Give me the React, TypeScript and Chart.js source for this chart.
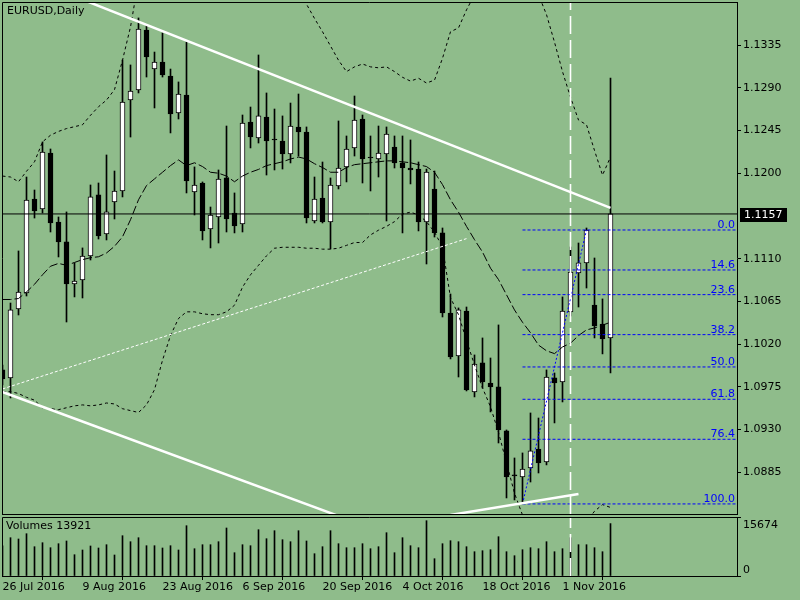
import React, { useEffect, useRef } from 'react';
import { Chart, registerables } from 'chart.js';

Chart.register(...registerables);

// ---------- data ----------
const symbolTitle = 'EURUSD,Daily';
const dateTickBars = [0, 10, 20, 30, 40, 50, 60, 70];
const dateTicks = ['26 Jul 2016', '9 Aug 2016', '23 Aug 2016', '6 Sep 2016', '20 Sep 2016', '4 Oct 2016', '18 Oct 2016', '1 Nov 2016'];
const priceTicks = [1.0885, 1.093, 1.0975, 1.102, 1.1065, 1.111, 1.12, 1.1245, 1.129, 1.1335];

const opens = [1.09928, 1.09844, 1.10570, 1.10739, 1.11728, 1.11623, 1.12213, 1.11486, 1.11276, 1.10834,
  1.10876, 1.11128, 1.11771, 1.11360, 1.11697, 1.11813, 1.12771, 1.12876, 1.13508, 1.13097,
  1.13171, 1.13024, 1.12634, 1.12824, 1.11802, 1.11897, 1.11413, 1.11539, 1.11950, 1.11581,
  1.11465, 1.12539, 1.12371, 1.12592, 1.12360, 1.12339, 1.12202, 1.12487, 1.12434, 1.11497,
  1.11739, 1.11486, 1.11865, 1.12066, 1.12266, 1.12571, 1.12171, 1.12150, 1.12202, 1.12276,
  1.12108, 1.12055, 1.12044, 1.11486, 1.11834, 1.11371, 1.10528, 1.10075, 1.10549, 1.09696,
  1.10002, 1.09791, 1.09749, 1.09286, 1.08822, 1.08801, 1.08896, 1.09096, 1.08959, 1.09844,
  1.09802, 1.10539, 1.10949, 1.11055, 1.10612, 1.10412, 1.10265];
const highs = [1.09980, 1.10633, 1.11181, 1.11960, 1.11823, 1.12329, 1.12255, 1.11539, 1.11592, 1.11055,
  1.11213, 1.11876, 1.11897, 1.12192, 1.12023, 1.13192, 1.13140, 1.13635, 1.13561, 1.13276,
  1.13477, 1.13097, 1.12961, 1.13382, 1.12066, 1.11908, 1.11644, 1.12034, 1.12497, 1.11792,
  1.12613, 1.12697, 1.13245, 1.12845, 1.12676, 1.12603, 1.12739, 1.12834, 1.12487, 1.11960,
  1.12118, 1.11950, 1.12550, 1.12392, 1.12813, 1.12613, 1.12392, 1.12497, 1.12487, 1.12392,
  1.12392, 1.12350, 1.12118, 1.12044, 1.12023, 1.11423, 1.10728, 1.10581, 1.10591, 1.10086,
  1.10265, 1.10054, 1.10402, 1.09296, 1.09001, 1.09054, 1.09475, 1.09422, 1.09928, 1.09896,
  1.10697, 1.11223, 1.11265, 1.11423, 1.11107, 1.10676, 1.13003];
const lows = [1.09770, 1.09633, 1.10507, 1.10707, 1.11528, 1.11581, 1.11381, 1.11118, 1.10433, 1.10697,
  1.10686, 1.11086, 1.11307, 1.11297, 1.11518, 1.11750, 1.12381, 1.12845, 1.13013, 1.12687,
  1.13013, 1.12424, 1.12571, 1.11792, 1.11560, 1.11297, 1.11213, 1.11265, 1.11381, 1.11371,
  1.11381, 1.12266, 1.12318, 1.11981, 1.12034, 1.12044, 1.12108, 1.12181, 1.11476, 1.11476,
  1.11476, 1.11202, 1.11834, 1.11908, 1.12181, 1.11897, 1.11813, 1.11960, 1.11497, 1.12055,
  1.11371, 1.11887, 1.11392, 1.11044, 1.11328, 1.10486, 1.10044, 1.09854, 1.09707, 1.09644,
  1.09738, 1.09486, 1.09159, 1.08580, 1.08559, 1.08517, 1.08748, 1.08843, 1.08928, 1.09370,
  1.09591, 1.10496, 1.10591, 1.10791, 1.10265, 1.10097, 1.09896];
const closes = [1.09833, 1.10560, 1.10749, 1.11718, 1.11602, 1.12223, 1.11476, 1.11276, 1.10834, 1.10865,
  1.11128, 1.11750, 1.11339, 1.11592, 1.11813, 1.12750, 1.12866, 1.13519, 1.13224, 1.13171,
  1.13034, 1.12624, 1.12834, 1.11918, 1.11876, 1.11392, 1.11560, 1.11939, 1.11518, 1.11444,
  1.12529, 1.12381, 1.12603, 1.12339, 1.12350, 1.12202, 1.12497, 1.12434, 1.11528, 1.11728,
  1.11486, 1.11876, 1.12055, 1.12255, 1.12560, 1.12150, 1.12160, 1.12213, 1.12413, 1.12108,
  1.12055, 1.12034, 1.11486, 1.12013, 1.11371, 1.10528, 1.10065, 1.10560, 1.09717, 1.09991,
  1.09802, 1.09749, 1.09296, 1.08801, 1.08812, 1.08885, 1.09075, 1.08949, 1.09854, 1.09791,
  1.10549, 1.10960, 1.11055, 1.11402, 1.10391, 1.10254, 1.11571];
const volumes = [8000, 10176, 9831, 11239, 7785, 8848, 7519, 8582, 9300, 5659,
  6908, 7971, 7440, 8316, 5580, 10708, 9114, 10176, 8051, 8051,
  7440, 8051, 6908, 13365, 7254, 8316, 8316, 9114, 12754, 6191,
  8316, 8051, 12302, 9911, 12036, 9645, 9114, 12036, 9300, 5925,
  7785, 12036, 8582, 7519, 7519, 8582, 7254, 7785, 11505, 6191,
  10176, 8051, 7519, 14693, 4597, 8582, 9379, 9114, 7785, 6457,
  6722, 6988, 10442, 6457, 5394, 6988, 7519, 7254, 9114, 6457,
  7254, 10176, 8316, 8316, 7519, 6457, 13921];
const volumeMax = 15674;

const bbUpper = [1.1197, 1.1196, 1.1191, 1.1202, 1.1212, 1.1233, 1.1240, 1.1244, 1.1247, 1.1249,
  1.1251, 1.1261, 1.1270, 1.1277, 1.1288, 1.1319, 1.1354, 1.1403, 1.1419, 1.1424,
  1.1424, 1.1424, 1.1424, 1.1422, 1.1422, 1.1420, 1.1420, 1.1418, 1.1418, 1.1416,
  1.1414, 1.1412, 1.1414, 1.1412, 1.1409, 1.1403, 1.1395, 1.1388, 1.1378, 1.1363,
  1.1349, 1.1334, 1.1319, 1.1307, 1.1312, 1.1315, 1.1312, 1.1311, 1.1312, 1.1307,
  1.1301, 1.1297, 1.1300, 1.1295, 1.1298, 1.1321, 1.1349, 1.1353, 1.1372, 1.1388,
  1.1403, 1.1414, 1.1424, 1.1435, 1.1424, 1.1414, 1.1403, 1.1388, 1.1367, 1.1338,
  1.1307, 1.1280, 1.1256, 1.1251, 1.1224, 1.1198, 1.1217];
const bbMiddle = [1.1067, 1.1067, 1.1068, 1.1075, 1.1083, 1.1093, 1.1102, 1.1105, 1.1103, 1.1106,
  1.1109, 1.1111, 1.1112, 1.1116, 1.1123, 1.1133, 1.1151, 1.1172, 1.1187, 1.1194,
  1.1201, 1.1208, 1.1214, 1.1208, 1.1211, 1.1207, 1.1201, 1.1200, 1.1197, 1.1191,
  1.1197, 1.1201, 1.1204, 1.1208, 1.1210, 1.1212, 1.1215, 1.1217, 1.1215, 1.1210,
  1.1206, 1.1201, 1.1201, 1.1206, 1.1209, 1.1210, 1.1211, 1.1212, 1.1213, 1.1213,
  1.1212, 1.1211, 1.1209, 1.1207, 1.1201, 1.1188, 1.1172, 1.1159, 1.1144, 1.1130,
  1.1117, 1.1100, 1.1088, 1.1072, 1.1056, 1.1043, 1.1032, 1.1019, 1.1013, 1.1010,
  1.1017, 1.1021, 1.1029, 1.1035, 1.1037, 1.1040, 1.1043];
const bbLower = [1.0970, 1.0970, 1.0968, 1.0964, 1.0961, 1.0953, 1.0952, 1.0951, 1.0953, 1.0955,
  1.0956, 1.0955, 1.0956, 1.0958, 1.0957, 1.0952, 1.0950, 1.0948, 1.0956, 1.0972,
  1.1003, 1.1029, 1.1047, 1.1054, 1.1054, 1.1052, 1.1051, 1.1051, 1.1054, 1.1061,
  1.1080, 1.1093, 1.1103, 1.1113, 1.1121, 1.1122, 1.1122, 1.1122, 1.1121, 1.1121,
  1.1120, 1.1120, 1.1121, 1.1124, 1.1127, 1.1127, 1.1135, 1.1140, 1.1144, 1.1149,
  1.1157, 1.1159, 1.1156, 1.1149, 1.1138, 1.1122, 1.1069, 1.1051, 1.1024, 1.0998,
  1.0974, 1.0954, 1.0927, 1.0895, 1.0863, 1.0840, 1.0824, 1.0803, 1.0787, 1.0782,
  1.0787, 1.0803, 1.0819, 1.0833, 1.0844, 1.0851, 1.0848];

// chart objects (bar index, price)
const fibLevels = [0, 14.6, 23.6, 38.2, 50, 61.8, 76.4, 100];
const fibHigh = 1.11402;
const fibLow = 1.08517;
const fibLowBar = 65;
const fibHighBar = 73;
const channelUpper = [{ bar: 0, price: 1.14161 }, { bar: 76, price: 1.11634 }];
const channelLower = [{ bar: 0, price: 1.09696 }, { bar: 76, price: 1.07333 }];
const dottedTrend = [{ bar: 0, price: 1.09728 }, { bar: 58, price: 1.11311 }];
const supportTrend = [{ bar: 56, price: 1.08401 }, { bar: 72, price: 1.08622 }];
const separatorBar = 71;

// ---------- layout / style ----------
const BG = '#8FBC8B';
const FIB_COLOR = '#0000FF';
const FONT = '"DejaVu Sans"';
const X_MIN = -0.0625;
const X_MAX = 91.8125;
const Y_MIN = 1.08411;
const Y_MAX = 1.13803;
const AXIS_W = 63;

Chart.defaults.font.family = FONT;
Chart.defaults.font.size = 11;
Chart.defaults.color = '#000';

const idx = opens.map((_, i) => i);
const fibPrice = (l: number) => fibHigh - (fibHigh - fibLow) * l / 100;

const lineDs = (data: any[], color: string, width: number, dash: number[], order: number) => ({
  type: 'line' as const,
  data,
  borderColor: color,
  borderWidth: width,
  borderDash: dash,
  pointRadius: 0,
  fill: false,
  tension: 0,
  order,
  clip: 0,
});
const toPts = (arr: { bar: number; price: number }[]) => arr.map(p => ({ x: p.bar, y: p.price }));

const mainOverlay = {
  id: 'mainOverlay',
  afterDraw(chart: any) {
    const { ctx, chartArea: a, scales } = chart;
    const y = scales.y;
    ctx.save();
    ctx.strokeStyle = '#000';
    ctx.lineWidth = 1;
    ctx.beginPath();
    ctx.moveTo(a.left + 0.5, a.bottom + 0.5);
    ctx.lineTo(a.left + 0.5, a.top + 0.5);
    ctx.lineTo(a.right, a.top + 0.5);
    ctx.moveTo(a.left, a.bottom + 0.5);
    ctx.lineTo(a.right + 1, a.bottom + 0.5);
    ctx.stroke();
    ctx.font = `11px ${FONT}`;
    ctx.fillStyle = '#000';
    ctx.textAlign = 'left';
    ctx.textBaseline = 'top';
    ctx.fillText(symbolTitle, a.left + 5, a.top + 4);
    ctx.fillStyle = FIB_COLOR;
    ctx.textAlign = 'right';
    ctx.textBaseline = 'alphabetic';
    fibLevels.forEach(l => {
      const py = y.getPixelForValue(fibPrice(l));
      ctx.fillText(l.toFixed(1), a.right - 2, py - 2);
    });
    const last = closes[closes.length - 1];
    const py = Math.round(y.getPixelForValue(last));
    ctx.fillStyle = '#000';
    ctx.fillRect(a.right + 3, py - 6, 47, 14);
    ctx.fillStyle = '#fff';
    ctx.textAlign = 'left';
    ctx.textBaseline = 'middle';
    ctx.fillText(last.toFixed(4), a.right + 7, py + 1);
    ctx.restore();
  },
};

const volOverlay = {
  id: 'volOverlay',
  afterDraw(chart: any) {
    const { ctx, chartArea: a, scales } = chart;
    const y = scales.y;
    ctx.save();
    ctx.strokeStyle = '#000';
    ctx.lineWidth = 1;
    ctx.beginPath();
    ctx.moveTo(a.left + 0.5, a.bottom + 0.5);
    ctx.lineTo(a.left + 0.5, a.top + 0.5);
    ctx.lineTo(a.right, a.top + 0.5);
    ctx.stroke();
    ctx.font = `11px ${FONT}`;
    ctx.fillStyle = '#000';
    ctx.textAlign = 'left';
    ctx.textBaseline = 'top';
    ctx.fillText('Volumes ' + volumes[volumes.length - 1], a.left + 4, a.top + 4);
    ctx.textBaseline = 'alphabetic';
    ctx.fillText(String(volumeMax), a.right + 6, y.getPixelForValue(volumeMax) + 11);
    ctx.fillText('0', a.right + 6, y.getPixelForValue(0) - 3);
    ctx.restore();
  },
};

function buildMainConfig(): any {
  const last = closes[closes.length - 1];
  const datasets: any[] = [
    {
      type: 'bar',
      data: idx.map(i => ({ x: i, y: [lows[i], highs[i]] })),
      backgroundColor: '#000',
      borderWidth: 0,
      barThickness: 1,
      grouped: false,
      order: 3,
    },
    {
      type: 'bar',
      data: idx.map(i => ({ x: i, y: [opens[i], closes[i]] })),
      backgroundColor: idx.map(i => (closes[i] >= opens[i] ? '#ffffff' : '#000000')),
      borderColor: '#000',
      borderWidth: 1,
      borderSkipped: false,
      barThickness: 5,
      minBarLength: 1,
      grouped: false,
      order: 2,
    },
    lineDs(idx.map(i => ({ x: i, y: bbUpper[i] })), '#000', 1, [3, 3], 1),
    lineDs(idx.map(i => ({ x: i, y: bbLower[i] })), '#000', 1, [3, 3], 1),
    lineDs(idx.map(i => ({ x: i, y: bbMiddle[i] })), '#000', 1, [9, 3], 1),
    lineDs([{ x: X_MIN, y: last }, { x: X_MAX, y: last }], '#000', 1, [], 0),
    lineDs(toPts(channelUpper), '#fff', 2.5, [], 0),
    lineDs(toPts(channelLower), '#fff', 2.5, [], 0),
    lineDs(toPts(supportTrend), '#fff', 2.5, [], 0),
    lineDs(toPts(dottedTrend), '#fff', 1, [3, 2], 0),
    lineDs([{ x: separatorBar, y: Y_MIN }, { x: separatorBar, y: Y_MAX }], '#fff', 1.6, [18, 6], 0),
    lineDs([{ x: fibLowBar, y: fibLow }, { x: fibHighBar, y: fibHigh }], FIB_COLOR, 1, [2, 2], 0),
    ...fibLevels.map(l => lineDs([{ x: fibLowBar, y: fibPrice(l) }, { x: X_MAX, y: fibPrice(l) }], FIB_COLOR, 1, [3, 2], 0)),
  ];
  return {
    type: 'bar',
    data: { datasets },
    plugins: [mainOverlay],
    options: {
      animation: false,
      responsive: false,
      maintainAspectRatio: false,
      devicePixelRatio: 1,
      events: [],
      layout: { padding: { left: 2, top: 2, right: 0, bottom: 2 } },
      plugins: { legend: { display: false }, tooltip: { enabled: false } },
      scales: {
        x: { type: 'linear', min: X_MIN, max: X_MAX, offset: false, display: false },
        y: {
          type: 'linear',
          position: 'right',
          min: Y_MIN,
          max: Y_MAX,
          afterBuildTicks: (s: any) => { s.ticks = priceTicks.map(v => ({ value: v })); },
          afterFit: (s: any) => { s.width = AXIS_W; s.paddingTop = 0; s.paddingBottom = 0; },
          ticks: { callback: (v: any) => Number(v).toFixed(4), color: '#000', padding: 2, autoSkip: false, font: { size: 11, family: FONT } },
          grid: { drawOnChartArea: false, drawTicks: true, tickLength: 4, color: '#000' },
          border: { display: true, color: '#000' },
        },
      },
    },
  };
}

function buildVolConfig(): any {
  const datasets: any[] = [
    {
      type: 'bar',
      data: idx.map(i => ({ x: i, y: volumes[i] })),
      backgroundColor: '#000',
      borderWidth: 0,
      barThickness: 1,
      grouped: false,
      order: 2,
    },
    lineDs([{ x: separatorBar, y: 0 }, { x: separatorBar, y: volumeMax }], '#fff', 1.6, [18, 6], 0),
  ];
  return {
    type: 'bar',
    data: { datasets },
    plugins: [volOverlay],
    options: {
      animation: false,
      responsive: false,
      maintainAspectRatio: false,
      devicePixelRatio: 1,
      events: [],
      layout: { padding: { left: 2, top: 1, right: 0, bottom: 0 } },
      plugins: { legend: { display: false }, tooltip: { enabled: false } },
      scales: {
        x: {
          type: 'linear',
          position: 'bottom',
          min: X_MIN,
          max: X_MAX,
          offset: false,
          afterBuildTicks: (s: any) => { s.ticks = dateTickBars.map(v => ({ value: v })); },
          afterFit: (s: any) => { s.height = 24; s.paddingLeft = 0; s.paddingRight = 0; },
          ticks: {
            callback: (_v: any, i: number) => dateTicks[i],
            align: 'start',
            maxRotation: 0,
            minRotation: 0,
            autoSkip: false,
            padding: 1,
            color: '#000',
            font: { size: 11, family: FONT },
          },
          grid: { drawOnChartArea: false, drawTicks: true, tickLength: 4, color: '#000' },
          border: { display: true, color: '#000' },
        },
        y: {
          type: 'linear',
          position: 'right',
          min: 0,
          max: volumeMax,
          afterBuildTicks: (s: any) => { s.ticks = [{ value: 0 }, { value: volumeMax }]; },
          afterFit: (s: any) => { s.width = AXIS_W; s.paddingTop = 0; s.paddingBottom = 0; },
          ticks: { display: false },
          grid: { drawOnChartArea: false, drawTicks: true, tickLength: 4, color: '#000' },
          border: { display: true, color: '#000' },
        },
      },
    },
  };
}

export default function App() {
  const mainRef = useRef<HTMLCanvasElement>(null);
  const volRef = useRef<HTMLCanvasElement>(null);
  useEffect(() => {
    const main = new Chart(mainRef.current as HTMLCanvasElement, buildMainConfig());
    const vol = new Chart(volRef.current as HTMLCanvasElement, buildVolConfig());
    return () => {
      main.destroy();
      vol.destroy();
    };
  }, []);
  return (
    <div style={{ position: 'fixed', left: 0, top: 0, width: 800, height: 600, background: BG, overflow: 'hidden' }}>
      <canvas ref={mainRef} width={800} height={516} style={{ position: 'absolute', left: 0, top: 0, width: 800, height: 516 }} />
      <canvas ref={volRef} width={800} height={84} style={{ position: 'absolute', left: 0, top: 516, width: 800, height: 84 }} />
    </div>
  );
}
